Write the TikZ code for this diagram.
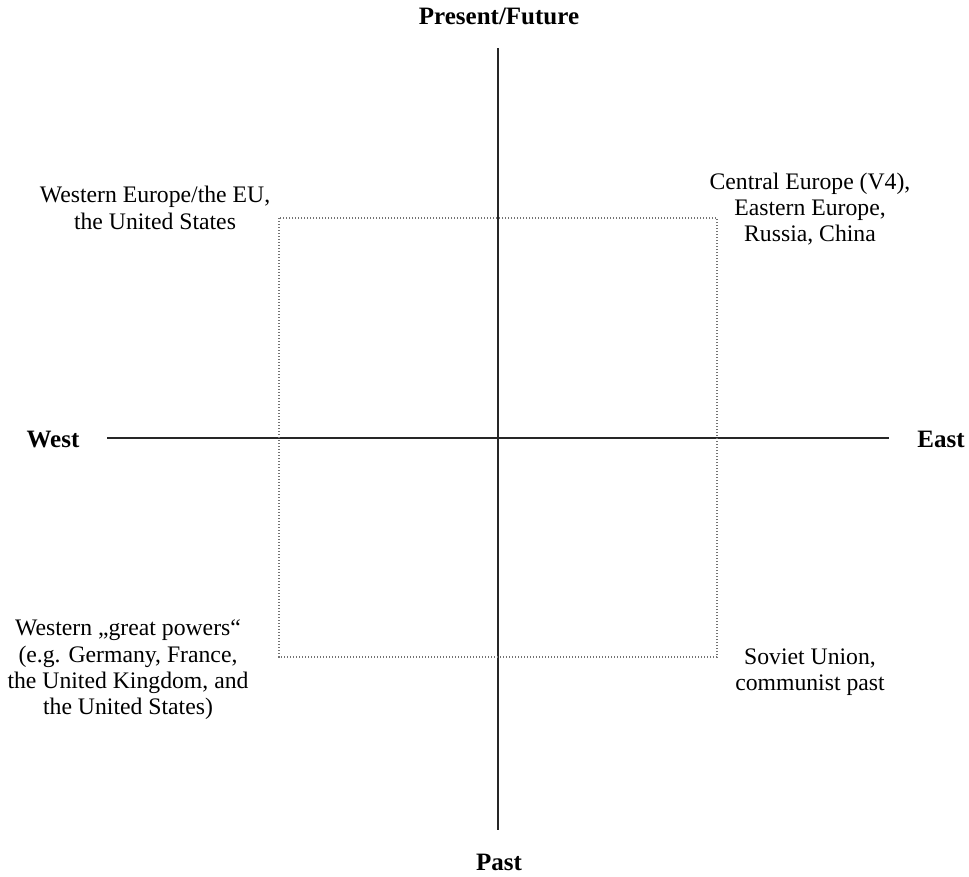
\documentclass[tikz,border=0pt]{standalone}
\usepackage{fontspec}
\setmainfont{Liberation Serif}
\begin{document}
\begin{tikzpicture}[x=1pt,y=-1pt,
  axis/.style={draw=black!85,line width=1.1pt},
  frame/.style={draw=black!55,line width=1.3pt,dash pattern=on 1.4pt off 1.6pt},
  pole/.style={font=\fontsize{25}{29}\selectfont\bfseries,inner sep=0pt},
  region/.style={font=\fontsize{23.7}{26.3}\selectfont,align=center,inner sep=0pt}]
\useasboundingbox (0,0) rectangle (969,876);
% quadrant axes
\coordinate (vtop) at (498,48);
\coordinate (vbot) at (498,830);
\coordinate (hl) at (107,438);
\coordinate (hr) at (889,438);
\draw[axis] (vtop) -- (vbot);
\draw[axis] (hl) -- (hr);
% dotted frame
\coordinate (f1) at (279,218);
\coordinate (f2) at (717,657);
\draw[frame] (f1) rectangle (f2);
% axis labels
\node[pole] (future) at (499,16) {Present/Future};
\node[pole] (past) at (499,862) {Past};
\node[pole] (west) at (53,439) {West};
\node[pole] (east) at (941,439) {East};
% quadrant labels
\node[region] (nw) at (155,208) {Western Europe/the EU,\\the United States};
\node[region] (ne) at (810,209) {Central Europe (V4),\\Eastern Europe,\\Russia, China};
\node[region] (sw) at (128,670) {Western „great powers“\\(e.g. Germany, France,\\the United Kingdom, and\\the United States)};
\node[region] (se) at (810,672) {Soviet Union,\\communist past};
\end{tikzpicture}
\end{document}
